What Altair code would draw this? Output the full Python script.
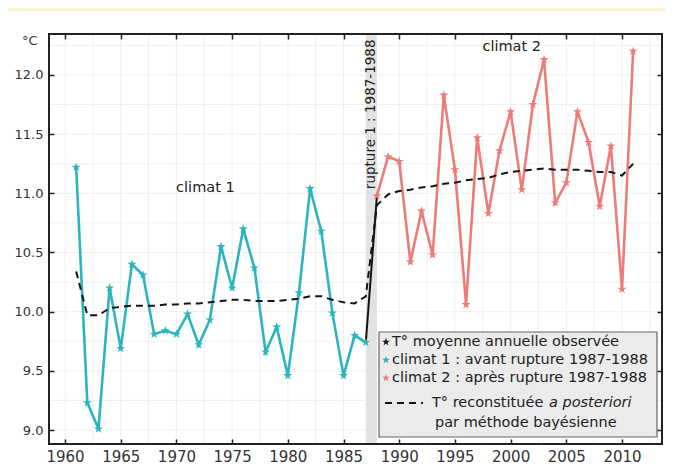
import altair as alt
import pandas as pd

# ---------------- data ----------------
years_c1 = list(range(1961, 1988))
temp_c1 = [11.22, 9.23, 9.01, 10.20, 9.69, 10.40, 10.31, 9.81, 9.84, 9.81,
           9.98, 9.72, 9.93, 10.55, 10.20, 10.70, 10.37, 9.66, 9.87, 9.46,
           10.16, 11.04, 10.68, 9.99, 9.46, 9.80, 9.74]
years_c2 = list(range(1988, 2012))
temp_c2 = [10.98, 11.31, 11.27, 10.42, 10.85, 10.48, 11.83, 11.20, 10.06, 11.47,
           10.83, 11.36, 11.69, 11.03, 11.75, 12.13, 10.92, 11.09, 11.69, 11.43,
           10.89, 11.40, 10.19, 12.20]
years_fit = list(range(1961, 2012))
temp_fit = [10.34, 9.97, 9.97, 10.03, 10.04, 10.05, 10.05, 10.05, 10.06, 10.06,
            10.07, 10.07, 10.08, 10.09, 10.10, 10.10, 10.09, 10.09, 10.09, 10.10,
            10.11, 10.13, 10.13, 10.10, 10.08, 10.07, 10.13,
            10.90, 10.99, 11.02, 11.03, 11.05, 11.06, 11.08, 11.09, 11.11, 11.12,
            11.13, 11.16, 11.18, 11.19, 11.20, 11.21, 11.20, 11.20, 11.20, 11.19,
            11.18, 11.18, 11.15, 11.25]
rupture = [1987, 1988]
x_ticks = [1960, 1965, 1970, 1975, 1980, 1985, 1990, 1995, 2000, 2005, 2010]
y_ticks = [9.0, 9.5, 10.0, 10.5, 11.0, 11.5, 12.0]
grid_x = [1960, 1962.5, 1965, 1967.5, 1970, 1972.5, 1975, 1977.5, 1980, 1982.5,
          1985, 1987.5, 1990, 1992.5, 1995, 1997.5, 2000, 2002.5, 2005, 2007.5,
          2010, 2012.5]
grid_y = [9.0, 9.25, 9.5, 9.75, 10.0, 10.25, 10.5, 10.75, 11.0, 11.25, 11.5,
          11.75, 12.0, 12.25]
annotations = ["climat 1", "climat 2", "rupture 1 : 1987-1988"]
annot_x = [1972.6, 2000.1, 1987.5]
annot_y = [11.045, 12.24, 12.30]
legend_labels = ["T° moyenne annuelle observée",
                 "climat 1 : avant rupture 1987-1988",
                 "climat 2 : après rupture 1987-1988",
                 "T° reconstituée ", "a posteriori",
                 "par méthode bayésienne"]

# ---------------- styling ----------------
W, H = 613, 410
FONT = "DejaVu Sans"
CYAN = "#2ab5bf"
SALMON = "#ee7b78"
BLACK = "#151515"
STAR = ("M0,-1L0.224,-0.309L0.951,-0.309L0.363,0.118L0.588,0.809L0,0.382"
        "L-0.588,0.809L-0.363,0.118L-0.951,-0.309L-0.224,-0.309Z")

xs = alt.Scale(domain=[1958.56, 2013.59], nice=False, zero=False)
ys = alt.Scale(domain=[8.882, 12.346], nice=False, zero=False)

df_c1 = pd.DataFrame({"year": years_c1, "t": temp_c1})
df_c2 = pd.DataFrame({"year": years_c2, "t": temp_c2})
df_obs = pd.concat([df_c1, df_c2], ignore_index=True)
df_fit = pd.DataFrame({"year": years_fit, "t": temp_fit})
df_rup = pd.DataFrame({"r0": [rupture[0]], "r1": [rupture[1]]})
df_gx = pd.DataFrame({"g": grid_x})
df_gy = pd.DataFrame({"g": grid_y})
df_ann = pd.DataFrame({"label": annotations, "x": annot_x, "y": annot_y})
one = pd.DataFrame({"k": [0]})

tick_common = dict(tickSize=5, offset=-5, domain=False, grid=False,
                   tickColor="#222", tickWidth=1.5, zindex=1)

x_bottom = alt.Axis(orient="bottom", values=x_ticks, format="d", labelPadding=5,
                    labelFont=FONT, labelFontSize=15, labelColor="#333",
                    title=None, **tick_common)
x_top = alt.Axis(orient="top", values=x_ticks, labels=False, title=None,
                 **tick_common)
y_left = alt.Axis(orient="left", values=y_ticks, format=".1f", labelPadding=6,
                  labelFont=FONT, labelFontSize=13, labelColor="#333",
                  title="°C", titleAngle=0, titleAlign="right",
                  titleBaseline="middle", titleX=-17, titleY=6, titleFont=FONT,
                  titleFontSize=13, titleFontWeight="normal", titleColor="#333",
                  **tick_common)
y_right = alt.Axis(orient="right", values=y_ticks, labels=False, title=None,
                   **tick_common)

white_bg = alt.Chart(one).mark_rect(color="white").encode(
    x=alt.value(-41), x2=alt.value(W + 3), y=alt.value(-23), y2=alt.value(H + 26))

gx = alt.Chart(df_gx).mark_rule(color="#efefef", strokeWidth=1).encode(
    x=alt.X("g:Q", scale=xs, axis=None))
gy = alt.Chart(df_gy).mark_rule(color="#efefef", strokeWidth=1).encode(
    y=alt.Y("g:Q", scale=ys, axis=None))

band = alt.Chart(df_rup).mark_rect(color="#e2e2e2").encode(
    x=alt.X("r0:Q", scale=xs, axis=None), x2="r1:Q",
    y=alt.value(0), y2=alt.value(H))

line_c1 = alt.Chart(df_c1).mark_line(color=CYAN, strokeWidth=2.6).encode(
    x=alt.X("year:Q", scale=xs, axis=None), y=alt.Y("t:Q", scale=ys, axis=None))
line_c2 = alt.Chart(df_c2).mark_line(color=SALMON, strokeWidth=2.6).encode(
    x=alt.X("year:Q", scale=xs, axis=None), y=alt.Y("t:Q", scale=ys, axis=None))
line_obs = alt.Chart(df_obs).transform_filter(
    (alt.datum.year >= rupture[0]) & (alt.datum.year <= rupture[1])
).mark_line(color=BLACK, strokeWidth=2).encode(
    x=alt.X("year:Q", scale=xs, axis=None), y=alt.Y("t:Q", scale=ys, axis=None))
line_fit = alt.Chart(df_fit).mark_line(color=BLACK, strokeWidth=2,
                                       strokeDash=[7, 5]).encode(
    x=alt.X("year:Q", scale=xs, axis=None), y=alt.Y("t:Q", scale=ys, axis=None))

stars_c1 = alt.Chart(df_c1).mark_point(shape=STAR, filled=True, size=90,
                                       color=CYAN, opacity=1).encode(
    x=alt.X("year:Q", scale=xs, axis=x_bottom),
    y=alt.Y("t:Q", scale=ys, axis=y_left))
stars_c2 = alt.Chart(df_c2).mark_point(shape=STAR, filled=True, size=90,
                                       color=SALMON, opacity=1).encode(
    x=alt.X("year:Q", scale=xs, axis=x_top),
    y=alt.Y("t:Q", scale=ys, axis=y_right))

ann_h = alt.Chart(df_ann).transform_filter(
    alt.datum.label != annotations[2]
).mark_text(font=FONT, fontSize=14.5, color="#222", align="center",
            baseline="middle").encode(
    x=alt.X("x:Q", scale=xs, axis=None), y=alt.Y("y:Q", scale=ys, axis=None),
    text="label:N")
ann_v = alt.Chart(df_ann).transform_filter(
    alt.datum.label == annotations[2]
).mark_text(font=FONT, fontSize=13.5, color="#222", align="right",
            baseline="middle", angle=270).encode(
    x=alt.X("x:Q", scale=xs, axis=None), y=alt.Y("y:Q", scale=ys, axis=None),
    text="label:N")

# ---------------- legend ----------------
LX0, LX1, LY0, LY1 = 330, 608, 298, 403
leg_box = alt.Chart(one).mark_rect(fill="#ebebeb", stroke="#666",
                                   strokeWidth=1.2).encode(
    x=alt.value(LX0), x2=alt.value(LX1), y=alt.value(LY0), y2=alt.value(LY1))

def leg_star(color, yy, size):
    return alt.Chart(one).mark_point(shape=STAR, filled=True, size=size,
                                     color=color, opacity=1).encode(
        x=alt.value(337), y=alt.value(yy))

def leg_text(txt, xx, yy, style="normal"):
    return alt.Chart(one).mark_text(font=FONT, fontSize=14.5, color="#222",
                                    align="left", baseline="middle",
                                    fontStyle=style).encode(
        x=alt.value(xx), y=alt.value(yy), text=alt.value(txt))

leg_dash = alt.Chart(one).mark_rule(color=BLACK, strokeWidth=2,
                                    strokeDash=[7, 5]).encode(
    x=alt.value(336), x2=alt.value(374), y=alt.value(369))

legend = [
    leg_box,
    leg_star(BLACK, 308, 70), leg_text(legend_labels[0], 343, 308),
    leg_star(CYAN, 326, 70), leg_text(legend_labels[1], 343, 326),
    leg_star(SALMON, 344, 70), leg_text(legend_labels[2], 343, 344),
    leg_dash, leg_text(legend_labels[3], 383, 369),
    leg_text(legend_labels[4], 500, 369, "italic"),
    leg_text(legend_labels[5], 386, 389),
]

frame = alt.Chart(one).mark_rect(fillOpacity=0, stroke="#222",
                                 strokeWidth=2).encode(
    x=alt.value(0), x2=alt.value(W), y=alt.value(0), y2=alt.value(H))

chart = alt.layer(
    white_bg, gx, gy, band, line_c1, line_c2, line_fit, line_obs,
    stars_c1, stars_c2, ann_h, ann_v, *legend, frame
).resolve_axis(x="independent", y="independent").properties(
    width=W, height=H, background="#fcf1cf", autosize="none",
    padding={"left": 41, "top": 26, "right": 3, "bottom": 26},
).configure_view(strokeWidth=0)

chart.save("out.html", embed_options={"renderer": "svg", "actions": False})
